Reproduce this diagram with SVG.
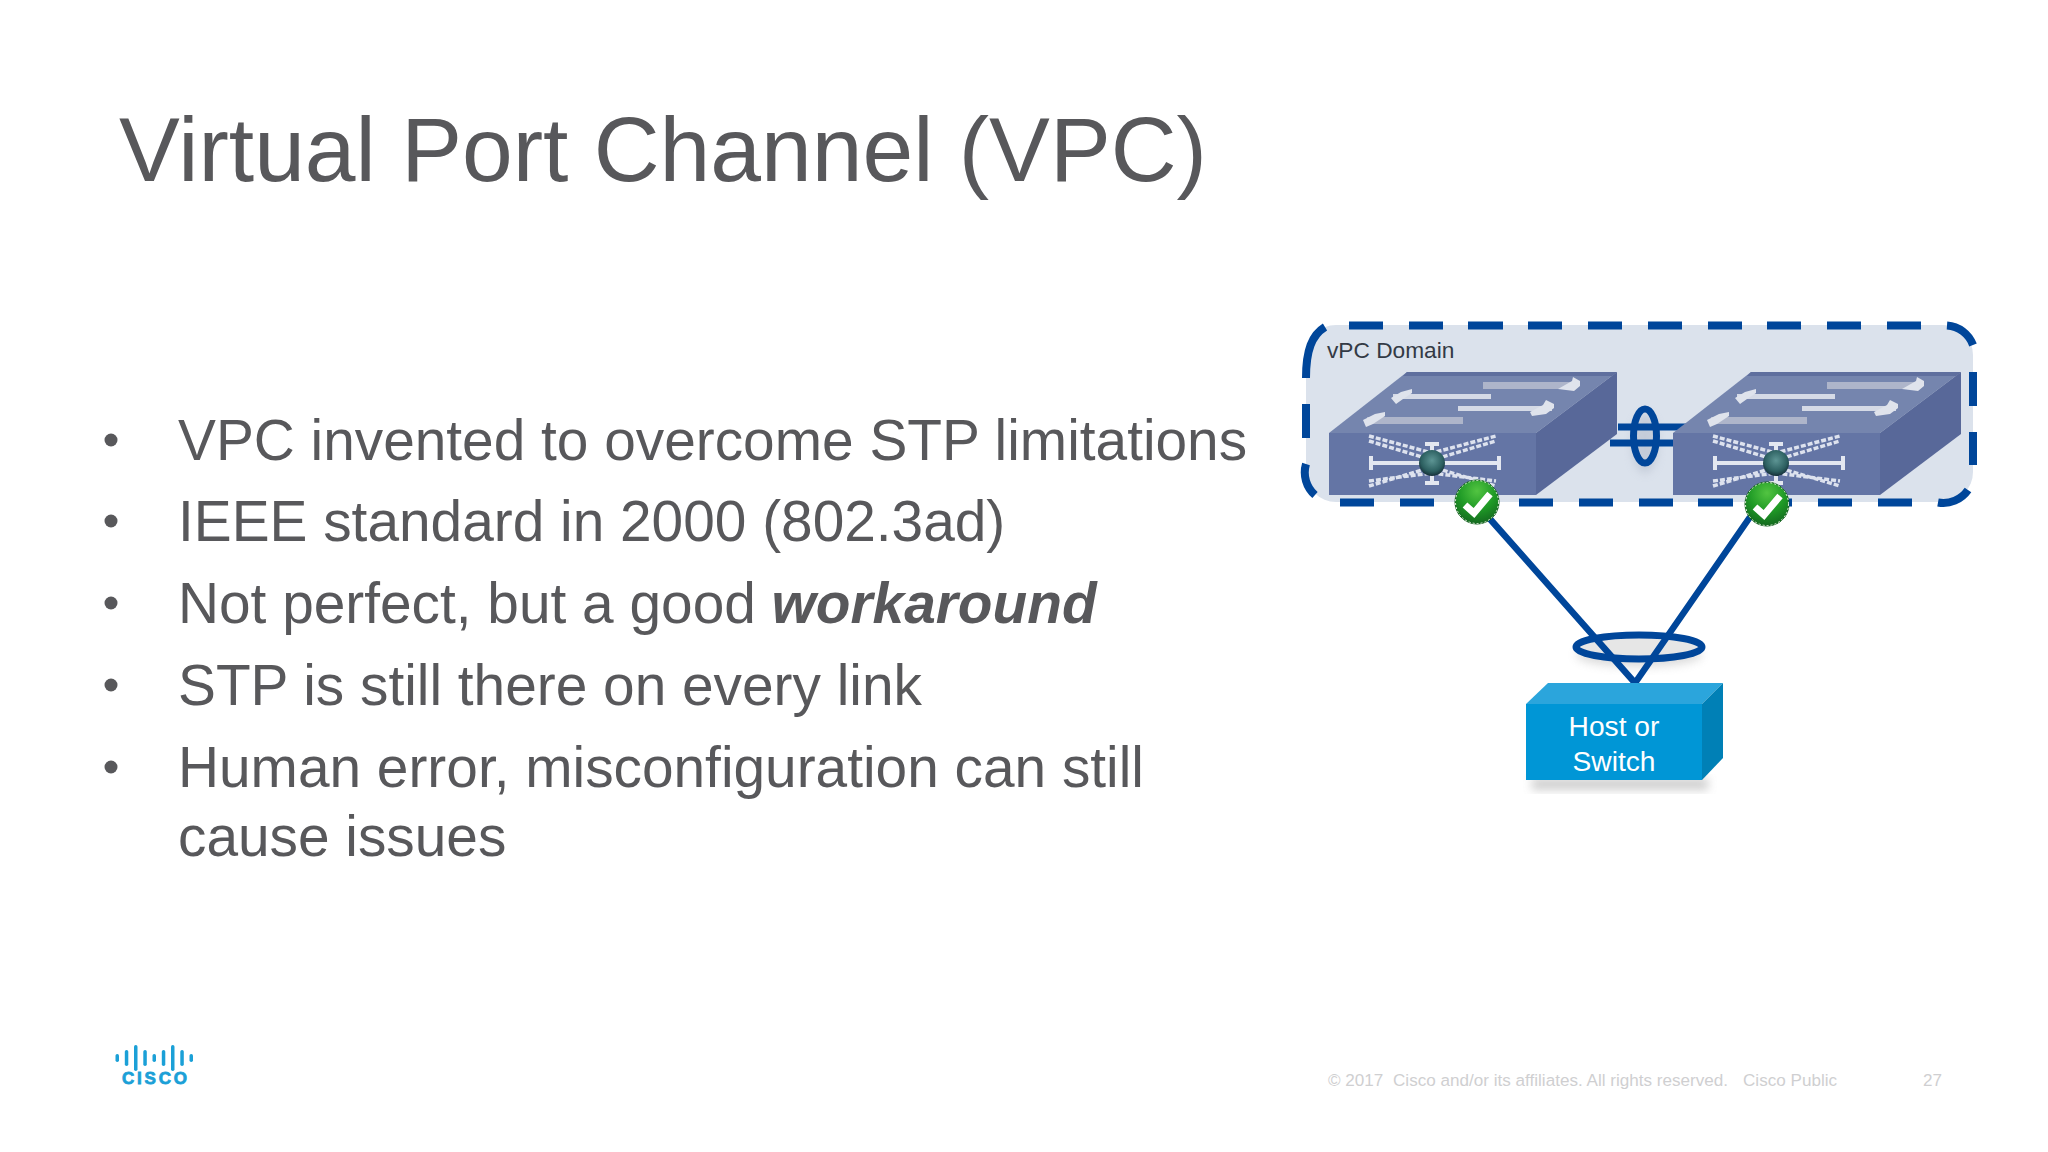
<svg xmlns="http://www.w3.org/2000/svg" width="2048" height="1152" viewBox="0 0 2048 1152">
<defs>
<style>
text{font-family:"Liberation Sans",Arial,sans-serif}
.title{font-size:91.200px;fill:#58585b}
.b{font-size:56.800px;fill:#58585b}
.foot{font-size:17.100px;fill:#cfcfd1}
.hl{fill:none;stroke:#00469a;stroke-width:7}
.l{fill:none;stroke:#e3e7f0;stroke-width:4}
.d{fill:none;stroke:#dde2ee;stroke-width:3.500;stroke-dasharray:5 2}
.bar{fill:#aeb5ca}
.barl{fill:#d5dae6}
.ah{fill:#dfe3ec}
.host{font-size:28.200px;fill:#fff;text-anchor:middle}
</style>
<filter id="blur" x="-30%" y="-30%" width="160%" height="160%"><feGaussianBlur stdDeviation="5"/></filter>
<radialGradient id="green" cx="50%" cy="25%" r="75%"><stop offset="0" stop-color="#52c441"/><stop offset="0.55" stop-color="#1f9a26"/><stop offset="1" stop-color="#14691f"/></radialGradient>
<radialGradient id="ball" cx="50%" cy="40%" r="60%"><stop offset="0" stop-color="#5d9594"/><stop offset="0.7" stop-color="#2c5f60"/><stop offset="1" stop-color="#16303a"/></radialGradient>
<g id="switch">
<polygon points="1329,433 1407,372 1617,372 1536,433" fill="#7585ae"/>
<polygon points="1407,372 1617,372 1612,376 1403,376" fill="#5f6f9e"/>
<polygon points="1536,433 1617,372 1617,434 1536,495" fill="#586899"/>
<rect x="1329" y="433" width="207" height="62" fill="#6475a5"/>
<rect x="1483" y="382" width="88" height="7" class="bar"/><polygon class="ah" points="1558,389 1572,381 1573,377 1580,381 1580,386 1574,391"/>
<rect x="1393" y="394" width="98" height="5" class="barl"/><polygon class="ah" points="1391,398 1401,392 1412,389 1412,393 1403,399 1396,404"/>
<rect x="1458" y="406" width="94" height="5" class="barl"/><polygon class="ah" points="1530,412 1543,405 1546,400 1554,404 1554,408 1546,414 1532,416"/>
<rect x="1367" y="417" width="96" height="7" class="bar"/><polygon class="ah" points="1363,420 1375,414 1385,412 1385,416 1373,424 1366,427"/>
<path class="l" d="M1372,463 H1498"/>
<path class="l" d="M1371,456 V470 M1499,456 V470 M1432,443 V483 M1425,444 H1439 M1425,483 H1439"/>
<path class="d" d="M1369,441 L1432,460 L1496,441 M1369,436 L1432,453 L1496,436 M1369,486 L1432,467 L1496,486 M1369,481 L1432,473 L1496,481"/>
<circle cx="1432" cy="463" r="13" fill="url(#ball)"/>
</g>
<g id="check">
<circle r="22" fill="url(#green)" stroke="#0f5d1a" stroke-width="1"/>
<circle r="21.500" fill="none" stroke="#e6f2e0" stroke-width="1" stroke-dasharray="2 2"/>
<path d="M-12,3 L-3,11 L13,-8" fill="none" stroke="#fff" stroke-width="7"/>
</g>
</defs>
<rect width="2048" height="1152" fill="#fff"/>
<text class="title" x="119" y="181">Virtual Port Channel (VPC)</text>
<g id="bullets">
<circle cx="111" cy="440" r="6.500" fill="#58585b"/><text class="b" x="178" y="459.500">VPC invented to overcome STP limitations</text>
<circle cx="111" cy="521" r="6.500" fill="#58585b"/><text class="b" x="178" y="541">IEEE standard in 2000 (802.3ad)</text>
<circle cx="111" cy="603" r="6.500" fill="#58585b"/><text class="b" x="178" y="623">Not perfect, but a good <tspan font-weight="bold" font-style="italic">workaround</tspan></text>
<circle cx="111" cy="685" r="6.500" fill="#58585b"/><text class="b" x="178" y="705">STP is still there on every link</text>
<circle cx="111" cy="767" r="6.500" fill="#58585b"/><text class="b" x="178" y="787">Human error, misconfiguration can still</text>
<text class="b" x="178" y="856">cause issues</text>
</g>
<g id="vpc-domain">
<rect x="1306" y="325" width="667" height="177" rx="30" fill="#dbe2ec"/>
<path fill="none" stroke="#00469a" stroke-width="8" d="M1349,325.500H1383M1409,325.500H1443M1468,325.500H1503M1528,325.500H1562M1588,325.500H1622M1648,325.500H1682M1708,325.500H1742M1767,325.500H1801M1827,325.500H1861M1887,325.500H1921M1947,325.500A30,30 0 0 1 1973,345M1973,372V406M1973,432V465M1968,490A30,30 0 0 1 1938,502.500M1912,502.500H1878M1852,502.500H1818M1792,502.500H1759M1733,502.500H1698M1673,502.500H1639M1613,502.500H1579M1553,502.500H1519M1493,502.500H1459M1434,502.500H1400M1374,502.500H1340M1315,495A30,30 0 0 1 1306,464M1306,438V404M1306,378C1306,350 1312,335 1325,327"/>
<text x="1327" y="358" font-size="22.700" fill="#333a45">vPC Domain</text>
</g>
<g id="connectors">
<ellipse cx="1645" cy="443" rx="13" ry="30" fill="#9aa3b5" opacity="0.35" filter="url(#blur)"/>
<path class="hl" d="M1610,443H1680M1618,427H1690"/>
<ellipse class="hl" cx="1645" cy="436" rx="11.500" ry="27"/>
<ellipse cx="1639" cy="655" rx="63" ry="12" fill="#888" opacity="0.3" filter="url(#blur)"/>
<ellipse cx="1639" cy="647" rx="60" ry="9" fill="#e6e6e6"/>
<path d="M1490,519L1635,683L1750,517" fill="none" stroke="#00469a" stroke-width="6.500"/>
<ellipse class="hl" cx="1639" cy="647" rx="63" ry="12"/>
</g>
<g id="switch-left"><use href="#switch"/></g>
<g id="switch-right"><use href="#switch" transform="translate(344,0)"/></g>
<g id="check-left"><use href="#check" x="1477" y="502"/></g>
<g id="check-right"><use href="#check" x="1767" y="504"/></g>
<g id="host-switch">
<rect x="1532" y="778" width="176" height="12" fill="#888" opacity="0.4" filter="url(#blur)"/>
<polygon points="1526,704 1548,683 1723,683 1702,704" fill="#2ba5dc"/>
<polygon points="1702,704 1723,683 1723,758 1702,780" fill="#0080b6"/>
<rect x="1526" y="704" width="176" height="76" fill="#0096d6"/>
<text class="host" x="1614" y="736">Host or</text>
<text class="host" x="1614" y="771">Switch</text>
</g>
<g id="logo" fill="#1ba0d7">
<rect x="115.500" y="1054" width="3.500" height="8" rx="1.700"/>
<rect x="124.800" y="1050" width="3.500" height="16" rx="1.700"/>
<rect x="134" y="1045" width="3.500" height="26" rx="1.700"/>
<rect x="143.300" y="1050" width="3.500" height="16" rx="1.700"/>
<rect x="152.500" y="1054" width="3.500" height="8" rx="1.700"/>
<rect x="161.800" y="1050" width="3.500" height="16" rx="1.700"/>
<rect x="171" y="1045" width="3.500" height="26" rx="1.700"/>
<rect x="180.300" y="1050" width="3.500" height="16" rx="1.700"/>
<rect x="189.500" y="1054" width="3.500" height="8" rx="1.700"/>
<text x="122" y="1084" font-size="17" font-weight="bold" stroke="#1ba0d7" stroke-width="0.800" textLength="65" lengthAdjust="spacing">CISCO</text>
</g>
<g id="footer">
<text class="foot" x="1328" y="1086">© 2017</text>
<text class="foot" x="1393" y="1086">Cisco and/or its affiliates. All rights reserved.</text>
<text class="foot" x="1743" y="1086">Cisco Public</text>
<text class="foot" x="1923" y="1086">27</text>
</g>
</svg>
